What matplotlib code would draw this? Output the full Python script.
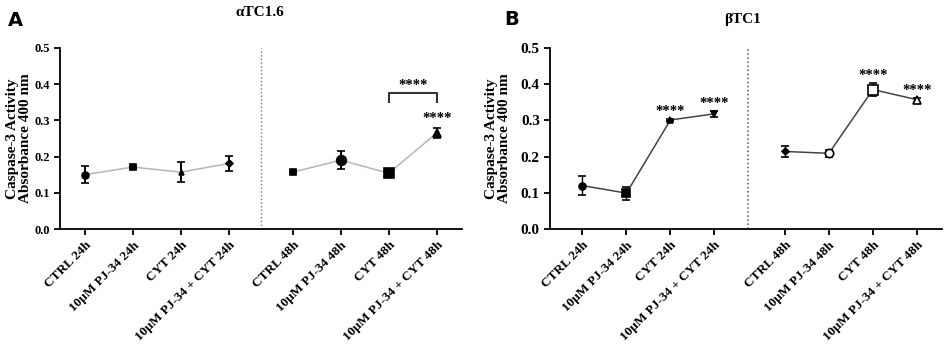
import matplotlib.pyplot as plt

labels = ['CTRL 24h', '10\u03bcM PJ-34 24h', 'CYT 24h', '10\u03bcM PJ-34 + CYT 24h',
          'CTRL 48h', '10\u03bcM PJ-34 48h', 'CYT 48h', '10\u03bcM PJ-34 + CYT 48h']

# panel A (alphaTC1.6)
a_mean = [0.150, 0.171, 0.157, 0.181, 0.157, 0.190, 0.154, 0.265]
a_err = [0.024, 0.003, 0.027, 0.021, 0.003, 0.025, 0.004, 0.015]
a_markers = ['o', 's', '^', 'D', 's', 'o', 's', '^']
a_msize = [5, 5, 3.5, 3.5, 4, 7, 7, 6]

# panel B (betaTC1)
b_mean = [0.120, 0.099, 0.301, 0.318, 0.214, 0.209, 0.385, 0.357]
b_err = [0.025, 0.018, 0.003, 0.009, 0.016, 0.010, 0.019, 0.005]
b_markers = ['o', 's', '^', 'v', 'D', 'o', 's', '^']
b_msize = [5, 6, 4, 5, 3.5, 6, 7, 6]
b_open = [False, False, False, False, False, True, True, True]
b_stars = [2, 3, 6, 7]

plt.rcParams['font.family'] = ['Liberation Serif', 'DejaVu Serif']
plt.rcParams['font.weight'] = 'bold'

fig = plt.figure(figsize=(9.52, 3.47), dpi=100)


def panel(ax, xs, mean, err, markers, msize, line_color, opens, fs_y, ebw):
    ax.plot(xs[:4], mean[:4], color=line_color, lw=1.1, zorder=1)
    ax.plot(xs[4:], mean[4:], color=line_color, lw=1.1, zorder=1)
    for i in range(len(xs)):
        face = 'white' if opens[i] else 'black'
        ax.errorbar(xs[i], mean[i], yerr=err[i], fmt=markers[i], ms=msize[i],
                    mfc=face, mec='black', mew=1.2, ecolor='black',
                    elinewidth=ebw, capsize=3, capthick=ebw, zorder=3)
    ax.set_ylim(0, 0.5)
    ax.set_yticks([0, 0.1, 0.2, 0.3, 0.4, 0.5])
    ax.set_yticklabels(['0.0', '0.1', '0.2', '0.3', '0.4', '0.5'], fontsize=fs_y, fontweight='bold')
    ax.set_xticks(xs)
    ax.set_xticklabels(labels, rotation=45, ha='right', rotation_mode='anchor',
                       fontsize=9.5, fontweight='bold')
    ax.spines['top'].set_visible(False)
    ax.spines['right'].set_visible(False)
    ax.spines['left'].set_linewidth(1.3)
    ax.spines['bottom'].set_linewidth(1.3)
    ax.tick_params(width=1.3, length=4)
    ax.set_ylabel('Caspase-3 Activity\nAbsorbance 400 nm', fontsize=11,
                  fontweight='bold', linespacing=1.0)


# ---- A ----
xa = [0, 1, 2, 3, 4.33, 5.33, 6.33, 7.33]
axA = fig.add_axes([0.063, 0.34, 0.422, 0.522])
panel(axA, xa, a_mean, a_err, a_markers, a_msize, '#b5b5b5', [False] * 8, 9, 1.4)
axA.set_xlim(-0.52, 7.85)
axA.axvline(3.67, color='#777777', ls=':', lw=1)
axA.plot([6.33, 6.33, 7.33, 7.33], [0.35, 0.375, 0.375, 0.35], color='#333333', lw=1.5)
axA.text(6.83, 0.395, '****', ha='center', va='center', fontsize=10.5)
axA.text(7.33, 0.305, '****', ha='center', va='center', fontsize=10.5)
axA.yaxis.set_label_coords(-0.07, 0.5)
fig.text(0.273, 0.965, '\u03b1TC1.6', ha='center', va='center', fontsize=11, fontweight='bold')
fig.text(0.016, 0.94, 'A', ha='center', va='center', fontsize=14, fontweight='bold',
         family='DejaVu Sans')

# ---- B ----
xb = [0, 1, 2, 3, 4.6, 5.6, 6.6, 7.6]
axB = fig.add_axes([0.578, 0.34, 0.412, 0.522])
panel(axB, xb, b_mean, b_err, b_markers, b_msize, '#444444', b_open, 11, 1.0)
axB.set_xlim(-0.73, 8.18)
axB.axvline(3.77, color='#555555', ls=':', lw=1.1)
for i in b_stars:
    axB.text(xb[i], b_mean[i] + b_err[i] + 0.02, '****', ha='center', va='center', fontsize=10.5)
axB.yaxis.set_label_coords(-0.1, 0.5)
fig.text(0.78, 0.945, '\u03b2TC1', ha='center', va='center', fontsize=11, fontweight='bold')
fig.text(0.537, 0.945, 'B', ha='center', va='center', fontsize=14, fontweight='bold',
         family='DejaVu Sans')

fig.savefig('out.png', dpi=100)
